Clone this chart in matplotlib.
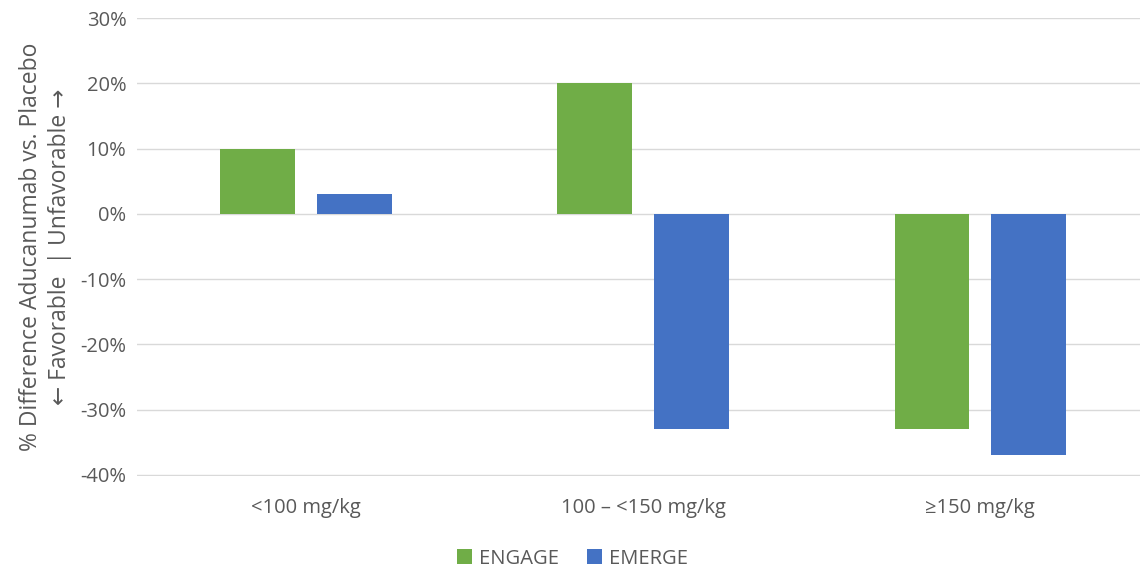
import matplotlib.pyplot as plt
import numpy as np
from matplotlib.ticker import FuncFormatter

categories = ['<100 mg/kg', '100 – <150 mg/kg', '≥150 mg/kg']
engage = [10, 20, -33]
emerge = [3, -33, -37]

plt.rcParams['font.family'] = ['Open Sans', 'DejaVu Sans']
txt = '#595959'

fig = plt.figure(figsize=(11.4, 5.69), dpi=100)
ax = fig.add_axes([0.1206, 0.163, 0.887, 0.805])

x = np.arange(len(categories))
w = 0.222
ax.bar(x - 0.143, engage, w, color='#70AD47', label='ENGAGE', zorder=3)
ax.bar(x + 0.143, emerge, w, color='#4472C4', label='EMERGE', zorder=3)

ax.set_xlim(-0.5, 2.5)
ax.set_ylim(-40.2, 30)
ax.set_yticks(np.arange(-40, 31, 10))
ax.yaxis.set_major_formatter(FuncFormatter(lambda v, p: f'{v:.0f}%'))
ax.set_xticks(x)
ax.set_xticklabels(categories)
ax.grid(axis='y', color='#D9D9D9', linewidth=1, zorder=0)
for s in ax.spines.values():
    s.set_visible(False)
ax.tick_params(length=0, labelsize=14.5, colors=txt, pad=8)
ax.tick_params(axis='x', pad=16)

ax.set_ylabel('% Difference Aducanumab vs. Placebo\n← Favorable  | Unfavorable →',
              fontsize=16.5, color=txt, labelpad=6, linespacing=1.3)

ax.legend(loc='center', bbox_to_anchor=(0.43, -0.18), ncol=2, frameon=False,
          fontsize=14.5, labelcolor=txt, handlelength=0.75, handleheight=0.75,
          columnspacing=1.4, handletextpad=0.35)

fig.savefig('out.png', dpi=100)
